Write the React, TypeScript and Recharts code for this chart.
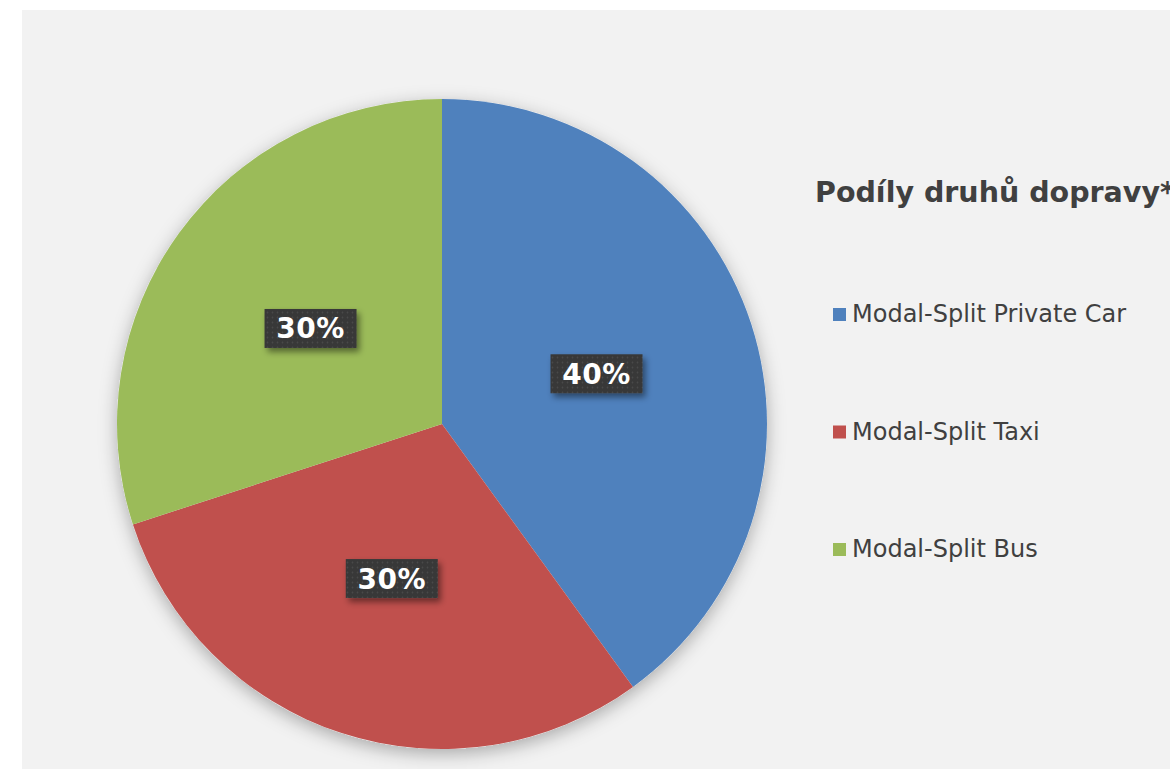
import React from "react"
import { PieChart, Pie, Cell, Legend } from "recharts"

const categories = ["Modal-Split Private Car", "Modal-Split Taxi", "Modal-Split Bus"]
const shares = [40, 30, 30]
const colors = ["#4f81bd", "#c0504d", "#9bbb59"]
const title = "Podíly druhů dopravy*"

const data = categories.map((name, i) => ({ name, value: shares[i] }))
const RADIAN = Math.PI / 180
const FONT = "'DejaVu Sans', Verdana, sans-serif"

function renderLabel({ cx, cy, midAngle, outerRadius, value, index }: any) {
  const r = outerRadius * 0.5
  const x = cx + r * Math.cos(-midAngle * RADIAN)
  const y = cy + r * Math.sin(-midAngle * RADIAN)
  const w = 92
  const h = 39
  return (
    <g key={"lbl" + index}>
      {index === 0 && (
        <defs>
          <pattern id="dots" width="5" height="5" patternUnits="userSpaceOnUse">
            <rect width="5" height="5" fill="#383838" />
            <circle cx="2.5" cy="2.5" r="0.9" fill="#4a4a4a" />
          </pattern>
          <filter id="boxShadow" x="-20%" y="-30%" width="150%" height="180%">
            <feDropShadow dx="3" dy="4" stdDeviation="3" floodColor="#000" floodOpacity="0.45" />
          </filter>
        </defs>
      )}
      <rect x={x - w / 2} y={y - h / 2} width={w} height={h} fill="url(#dots)" filter="url(#boxShadow)" />
      <text
        x={x}
        y={y + 10}
        textAnchor="middle"
        fill="#ffffff"
        fontFamily={FONT}
        fontWeight={700}
        fontSize={28}
        letterSpacing={0.5}
      >
        {value}%
      </text>
    </g>
  )
}

function LegendBox() {
  return (
    <svg width={355} height={420} style={{ overflow: "visible" }}>
      <text x={0} y={32} fill="#404040" fontFamily={FONT} fontWeight={700} fontSize={28.5}>
        {title}
      </text>
      {categories.map((name, i) => (
        <g key={name}>
          <rect x={18} y={138 + i * 117.5} width={13} height={13} fill={colors[i]} />
          <text x={37} y={152 + i * 117.5} fill="#404040" fontFamily={FONT} fontSize={24}>
            {name}
          </text>
        </g>
      ))}
    </svg>
  )
}

export default function App() {
  return (
    <div
      style={{
        position: "absolute",
        left: 0,
        top: 0,
        width: 1170,
        height: 769,
        overflow: "hidden",
        background: "#ffffff",
      }}
    >
      <div
        style={{ position: "absolute", left: 22, top: 10, width: 1148, height: 759, background: "#f2f2f2" }}
      />
      <div style={{ position: "absolute", left: 0, top: 0 }}>
        <PieChart width={1170} height={769} margin={{ top: 0, right: 0, bottom: 0, left: 0 }}>
          <defs>
            <filter id="pieShadow" x="-20%" y="-20%" width="140%" height="140%">
              <feDropShadow dx="0" dy="5" stdDeviation="9" floodColor="#000" floodOpacity="0.3" />
            </filter>
          </defs>
          <Pie
            data={[{ name: "shadow", value: 1 }]}
            dataKey="value"
            cx={442}
            cy={424}
            outerRadius={325}
            fill="#f2f2f2"
            stroke="none"
            legendType="none"
            isAnimationActive={false}
            style={{ filter: "url(#pieShadow)" }}
          />
          <Pie
            data={data}
            dataKey="value"
            cx={442}
            cy={424}
            outerRadius={325}
            startAngle={90}
            endAngle={-270}
            stroke="none"
            labelLine={false}
            label={renderLabel}
            isAnimationActive={false}
          >
            {data.map((d, i) => (
              <Cell key={d.name} fill={colors[i]} />
            ))}
          </Pie>
          <Legend
            content={() => <LegendBox />}
            wrapperStyle={{ position: "absolute", left: 815, top: 170, width: 355, height: 420 }}
          />
        </PieChart>
      </div>
    </div>
  )
}
